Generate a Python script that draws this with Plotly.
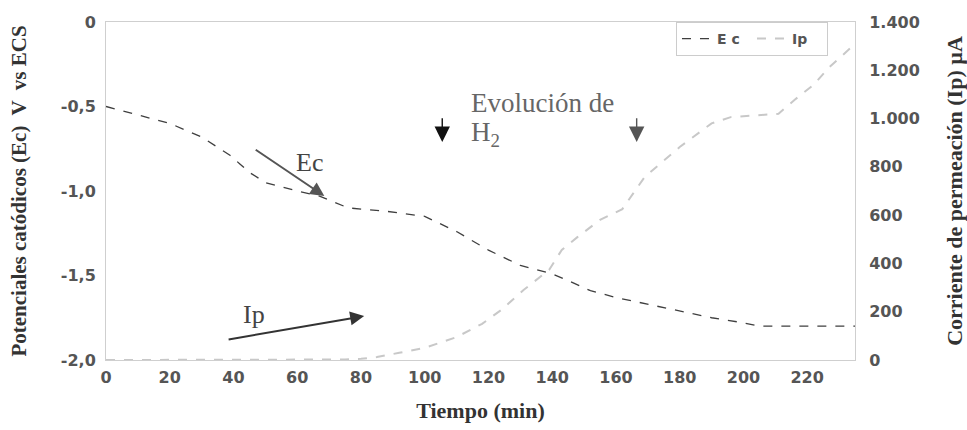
import plotly.graph_objects as go

# ---- data ----
t_ec = [0, 10, 20, 30, 39, 42, 45, 50, 60, 67, 76, 88, 100, 110, 120, 130, 140,
        145, 152, 160, 170, 180, 190, 200, 205, 215, 225, 235]
ec = [-0.50, -0.55, -0.60, -0.68, -0.79, -0.84, -0.89, -0.95, -1.00, -1.03, -1.10,
      -1.12, -1.15, -1.24, -1.35, -1.44, -1.49, -1.53, -1.59, -1.63, -1.67, -1.71,
      -1.75, -1.78, -1.80, -1.80, -1.80, -1.80]

t_ip = [0, 20, 40, 60, 75, 80, 85, 92, 100, 110, 118, 124, 131, 139, 143, 148, 155,
        162, 169, 180, 190, 196, 205, 211, 216, 222, 227, 234]
ip = [0, 0, 0, 0, 2, 5, 12, 30, 50, 95, 150, 207, 290, 373, 456, 510, 580,
      625, 758, 882, 980, 1006, 1015, 1020, 1077, 1140, 1214, 1297]

x_ticks = [0, 20, 40, 60, 80, 100, 120, 140, 160, 180, 200, 220]
y1_ticks = [0, -0.5, -1.0, -1.5, -2.0]
y1_text = ["0", "-0,5", "-1,0", "-1,5", "-2,0"]
y2_ticks = [0, 200, 400, 600, 800, 1000, 1200, 1400]
y2_text = ["0", "200", "400", "600", "800", "1.000", "1.200", "1.400"]

SANS = "DejaVu Sans"
SERIF = "Liberation Serif"
tickfont = dict(family=SANS, size=16, color="#555", weight="bold")
axline = "#cfcfcf"
notick = "rgba(0,0,0,0)"

fig = go.Figure()
fig.add_trace(go.Scatter(x=t_ec, y=ec, mode="lines", name="E c",
                         line=dict(color="#3f3f3f", width=1.3, dash="dash")))
fig.add_trace(go.Scatter(x=t_ip, y=ip, mode="lines", name="Ip", yaxis="y2",
                         line=dict(color="#c8c8c8", width=2, dash="dash")))

fig.update_layout(
    width=967, height=430,
    margin=dict(l=106, r=112, t=22, b=70),
    paper_bgcolor="white", plot_bgcolor="white",
    showlegend=True,
    legend=dict(orientation="h", x=0.761, xanchor="left", y=1, yanchor="top",
                bordercolor="#cccccc", borderwidth=1, bgcolor="white",
                font=dict(family=SANS, size=14, color="#555", weight="bold"),
                itemwidth=30, entrywidth=30, entrywidthmode="pixels"),
    xaxis=dict(range=[0, 235], tickvals=x_ticks, showgrid=False, zeroline=False,
               showline=True, linecolor=axline, mirror=True, automargin=False,
               ticks="outside", ticklen=3, tickcolor=notick,
               tickfont=tickfont,
               title=dict(text="Tiempo (min)", standoff=16,
                          font=dict(family=SERIF, size=22, color="#333", weight="bold"))),
    yaxis=dict(range=[-2.0, 0], tickvals=y1_ticks, ticktext=y1_text, showgrid=False,
               zeroline=False, showline=True, linecolor=axline, automargin=False,
               ticks="outside", ticklen=6, tickcolor=notick,
               tickfont=tickfont,
               title=dict(text="Potenciales catódicos (Ec)  V  vs ECS", standoff=28,
                          font=dict(family=SERIF, size=21, color="#333", weight="bold"))),
    yaxis2=dict(range=[0, 1400], tickvals=y2_ticks, ticktext=y2_text, overlaying="y",
                side="right", showgrid=False, zeroline=False, showline=True,
                linecolor=axline, automargin=False,
                ticks="outside", ticklen=10, tickcolor=notick,
                tickfont=tickfont,
                title=dict(text="Corriente de permeación (Ip) µA", standoff=30,
                           font=dict(family=SERIF, size=22, color="#333", weight="bold"))),
)

# text annotations
fig.add_annotation(x=64, y=-0.83, text="Ec", showarrow=False, xref="x", yref="y",
                   font=dict(family=SERIF, size=26, color="#444"))
fig.add_annotation(x=68.5, y=-1.03, ax=46.5, ay=-0.75, xref="x", yref="y",
                   axref="x", ayref="y", text="", showarrow=True,
                   arrowhead=2, arrowsize=1.4, arrowwidth=2, arrowcolor="#555")
fig.add_annotation(x=46.5, y=-1.73, text="Ip", showarrow=False, xref="x", yref="y",
                   font=dict(family=SERIF, size=26, color="#444"))
fig.add_annotation(x=81, y=-1.74, ax=38, ay=-1.88, xref="x", yref="y",
                   axref="x", ayref="y", text="", showarrow=True,
                   arrowhead=2, arrowsize=1.4, arrowwidth=2, arrowcolor="#333")
fig.add_annotation(x=114, y=-0.48, text="Evolución de", showarrow=False,
                   xref="x", yref="y", xanchor="left",
                   font=dict(family=SERIF, size=27, color="#666"))
fig.add_annotation(x=114, y=-0.66, text="H<sub>2</sub>", showarrow=False,
                   xref="x", yref="y", xanchor="left",
                   font=dict(family=SERIF, size=27, color="#666"))
fig.add_annotation(x=105.5, y=-0.71, ax=105.5, ay=-0.56, xref="x", yref="y",
                   axref="x", ayref="y", text="", showarrow=True,
                   arrowhead=2, arrowsize=2.2, arrowwidth=1.4, arrowcolor="#111")
fig.add_annotation(x=166.5, y=-0.71, ax=166.5, ay=-0.56, xref="x", yref="y",
                   axref="x", ayref="y", text="", showarrow=True,
                   arrowhead=2, arrowsize=2.2, arrowwidth=1.4, arrowcolor="#555")

fig.write_html("out.html")
